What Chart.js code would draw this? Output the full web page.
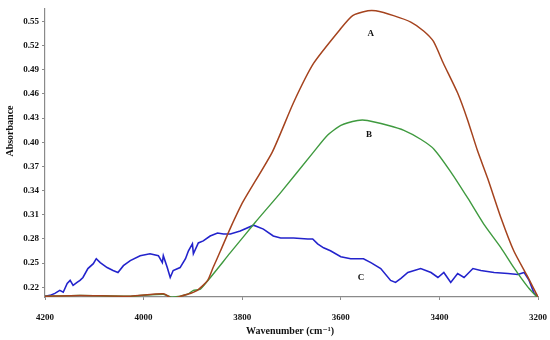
<!DOCTYPE html>
<html>
<head>
<meta charset="utf-8">
<script src="https://cdn.jsdelivr.net/npm/chart.js@4"></script>
<style>
  html, body { margin: 0; padding: 0; background: #fff; }
  #wrap { width: 550px; height: 340px; }
</style>
</head>
<body>
<div id="wrap"><canvas id="ftirChart" width="550" height="340"></canvas></div>
<script>
// wavenumber (cm-1) / absorbance pairs
var wnA = [4200, 4129, 4027, 3960, 3942, 3911, 3891, 3870, 3859, 3844, 3824, 3798, 3739, 3696, 3655, 3600, 3576, 3545, 3529, 3493, 3458, 3432, 3412, 3392, 3363, 3343, 3323, 3302, 3275, 3249, 3220, 3200];
var absA = [0.209, 0.210, 0.209, 0.212, 0.2065, 0.2114, 0.2163, 0.2286, 0.2445, 0.2653, 0.2935, 0.3265, 0.3878, 0.449, 0.498, 0.541, 0.557, 0.563, 0.563, 0.557, 0.549, 0.538, 0.525, 0.498, 0.461, 0.428, 0.390, 0.355, 0.306, 0.265, 0.232, 0.208];

var wnB = [4200, 4129, 4027, 3960, 3942, 3911, 3899, 3885, 3824, 3773, 3722, 3655, 3627, 3600, 3566, 3546, 3505, 3472, 3438, 3411, 3377, 3342, 3310, 3275, 3249, 3220, 3200];
var absB = [0.209, 0.210, 0.209, 0.2114, 0.2077, 0.2114, 0.2163, 0.2176, 0.263, 0.301, 0.3375, 0.388, 0.4086, 0.4208, 0.427, 0.427, 0.421, 0.4147, 0.4037, 0.3914, 0.3633, 0.3302, 0.2984, 0.269, 0.2445, 0.220, 0.2065];

var wnC = [4200, 4190, 4180, 4170, 4163, 4155, 4149, 4143, 4135, 4129, 4123, 4113, 4102, 4096, 4088, 4074, 4062, 4052, 4041, 4027, 4007, 3987, 3970, 3962, 3960, 3952, 3946, 3940, 3926, 3915, 3909, 3901, 3899, 3889, 3879, 3865, 3850, 3838, 3824, 3804, 3777, 3757, 3737, 3722, 3696, 3667, 3657, 3647, 3635, 3621, 3600, 3580, 3554, 3539, 3519, 3499, 3489, 3478, 3464, 3438, 3417, 3403, 3391, 3377, 3363, 3350, 3332, 3316, 3289, 3261, 3241, 3228, 3218, 3208, 3200];
var absC = [0.209, 0.210, 0.2125, 0.2163, 0.2139, 0.2249, 0.2286, 0.2224, 0.2261, 0.2286, 0.2322, 0.2433, 0.2494, 0.2555, 0.2506, 0.2445, 0.2408, 0.2384, 0.2469, 0.2531, 0.2592, 0.2616, 0.2592, 0.2506, 0.2592, 0.2445, 0.2322, 0.2408, 0.2445, 0.2555, 0.2653, 0.2739, 0.2616, 0.2751, 0.2776, 0.2837, 0.2873, 0.2861, 0.2861, 0.2898, 0.2971, 0.2922, 0.2837, 0.2812, 0.2812, 0.2800, 0.2800, 0.2739, 0.2690, 0.2653, 0.2580, 0.2555, 0.2555, 0.2506, 0.2433, 0.2286, 0.2261, 0.2310, 0.2384, 0.2433, 0.2384, 0.2322, 0.2384, 0.2261, 0.2371, 0.2322, 0.2433, 0.2408, 0.2384, 0.2371, 0.2359, 0.2384, 0.2286, 0.2127, 0.209];

var xTicks = [4200, 4000, 3800, 3600, 3400, 3200];
var yTicks = [0.22, 0.25, 0.28, 0.31, 0.34, 0.37, 0.40, 0.43, 0.46, 0.49, 0.52, 0.55];

// curve labels: [text, wavenumber, absorbance]
var curveLabels = [["A", 3539, 0.535], ["B", 3543, 0.409], ["C", 3559, 0.232]];

function pts(xs, ys) {
    var out = [];
    for (var i = 0; i < xs.length; i++) out.push({x: xs[i], y: ys[i]});
    return out;
}

var serif = "'Liberation Serif', 'DejaVu Serif', serif";

// draws the A/B/C tags and both axis titles
var textPlugin = {
    id: 'textPlugin',
    afterDraw: function (chart) {
        var c = chart.ctx;
        var xs = chart.scales.x, ys = chart.scales.y;
        c.save();
        c.fillStyle = "#111";
        c.textAlign = "center";
        c.textBaseline = "middle";
        c.font = "bold 9px " + serif;
        curveLabels.forEach(function (l) {
            c.fillText(l[0], xs.getPixelForValue(l[1]), ys.getPixelForValue(l[2]));
        });
        c.font = "bold 10px " + serif;
        c.fillText("Wavenumber (cm\u207B\u00B9)", 290, 331);
        c.translate(10, 131);
        c.rotate(-Math.PI / 2);
        c.fillText("Absorbance", 0, 0);
        c.restore();
    }
};

function line(label, data, color, width, tension) {
    return {
        label: label,
        data: data,
        borderColor: color,
        backgroundColor: color,
        borderWidth: width,
        pointRadius: 0,
        tension: tension,
        fill: false
    };
}

var myChart = new Chart(document.getElementById("ftirChart"), {
    type: 'line',
    data: {
        datasets: [
            line("A", pts(wnA, absA), "#a5431e", 1.5, 0.2),
            line("B", pts(wnB, absB), "#3f9a3f", 1.4, 0.2),
            line("C", pts(wnC, absC), "#2323cc", 1.6, 0)
        ]
    },
    options: {
        responsive: false,
        animation: false,
        layout: { padding: { left: 0, right: 12, top: 5, bottom: 0 } },
        plugins: { legend: { display: false }, tooltip: { enabled: false } },
        scales: {
            x: {
                type: 'linear',
                reverse: true,
                min: 3200,
                max: 4200,
                afterBuildTicks: function (s) { s.ticks = xTicks.map(function (v) { return {value: v}; }); },
                afterFit: function (s) { s.height = 43; s.paddingLeft = 0; s.paddingRight = 0; },
                border: { color: "#8a8a8a", width: 1.2 },
                grid: { drawOnChartArea: false, tickLength: 3, color: "#8a8a8a" },
                ticks: {
                    color: "#111",
                    padding: 12,
                    maxRotation: 0,
                    font: { family: serif, size: 9, weight: 'bold' },
                    callback: function (v) { return String(v); }
                }
            },
            y: {
                min: 0.208,
                max: 0.566,
                afterBuildTicks: function (s) { s.ticks = yTicks.map(function (v) { return {value: v}; }); },
                afterFit: function (s) { s.width = 45; },
                border: { color: "#8a8a8a", width: 1.2 },
                grid: { drawOnChartArea: false, tickLength: 3, color: "#8a8a8a" },
                ticks: {
                    color: "#111",
                    padding: 3,
                    font: { family: serif, size: 9, weight: 'bold' },
                    callback: function (v) { return v.toFixed(2); }
                }
            }
        }
    },
    plugins: [textPlugin]
});
</script>
</body>
</html>
